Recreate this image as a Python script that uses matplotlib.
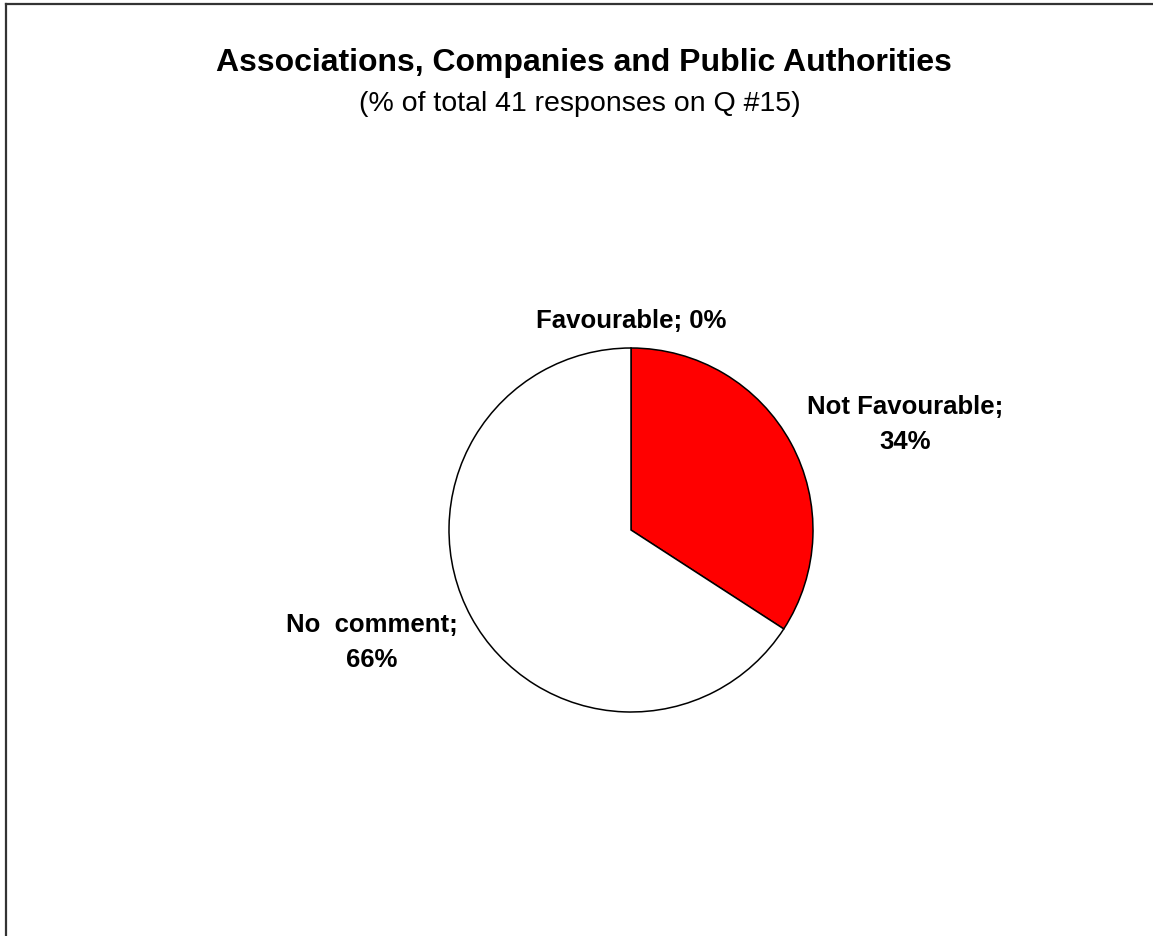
import matplotlib
matplotlib.use("Agg")
import matplotlib.pyplot as plt
from matplotlib.lines import Line2D
import numpy as np

plt.rcParams['font.family'] = ['Liberation Sans', 'DejaVu Sans']

# Responses on Q #15 (41 in total)
categories = ["Favourable", "Not Favourable", "No  comment"]
counts = [0, 14, 27]
colors = ["#FFFFFF", "#FF0000", "#FFFFFF"]
title = "Associations, Companies and Public Authorities"
subtitle = "(% of total 41 responses on Q #15)"

W, H = 1153, 937
fig = plt.figure(figsize=(W / 100, H / 100), dpi=100)
fig.patch.set_facecolor("white")

# Pie area: centre (631, 531) px, radius 182 px
cx, cy, r = 631, 531, 182
ax = fig.add_axes([(cx - r) / W, (H - cy - r) / H, 2 * r / W, 2 * r / H])
ax.axis("off")

wedges, _ = ax.pie(counts, colors=colors, startangle=90, counterclock=False,
                   radius=1.0, wedgeprops=dict(edgecolor="black", linewidth=1.1),
                   frame=False)
ax.set_aspect("equal")
ax.set_xlim(-1, 1)
ax.set_ylim(-1, 1)

total = sum(counts)
pct = [round(100 * c / total) for c in counts]
labels = [f"{categories[0]}; {pct[0]}%",
          f"{categories[1]};\n{pct[1]}%",
          f"{categories[2]};\n{pct[2]}%"]
# label placement (direction, distance from centre in radii)
placements = [(90.0, 1.155), (21.2, 1.615), (203.2, 1.552)]
for lab, (ang, dist) in zip(labels, placements):
    a = np.deg2rad(ang)
    ax.text(dist * np.cos(a), dist * np.sin(a), lab, ha="center", va="center",
            fontsize=18.5, fontweight="bold", linespacing=1.6, clip_on=False)

fig.text(584 / W, 1 - 63 / H, title, ha="center", va="center",
         fontsize=23, fontweight="bold")
fig.text(580 / W, 1 - 104 / H, subtitle, ha="center", va="center",
         fontsize=20.5)

# frame lines along the top and left edges
fig.add_artist(Line2D([5.5 / W, 1.0], [1 - 4.5 / H, 1 - 4.5 / H],
                      transform=fig.transFigure, color="#333333", linewidth=1.6))
fig.add_artist(Line2D([5.5 / W, 5.5 / W], [0.0, 1 - 4.5 / H],
                      transform=fig.transFigure, color="#333333", linewidth=1.6))

fig.savefig("out.png", dpi=100, facecolor="white")
